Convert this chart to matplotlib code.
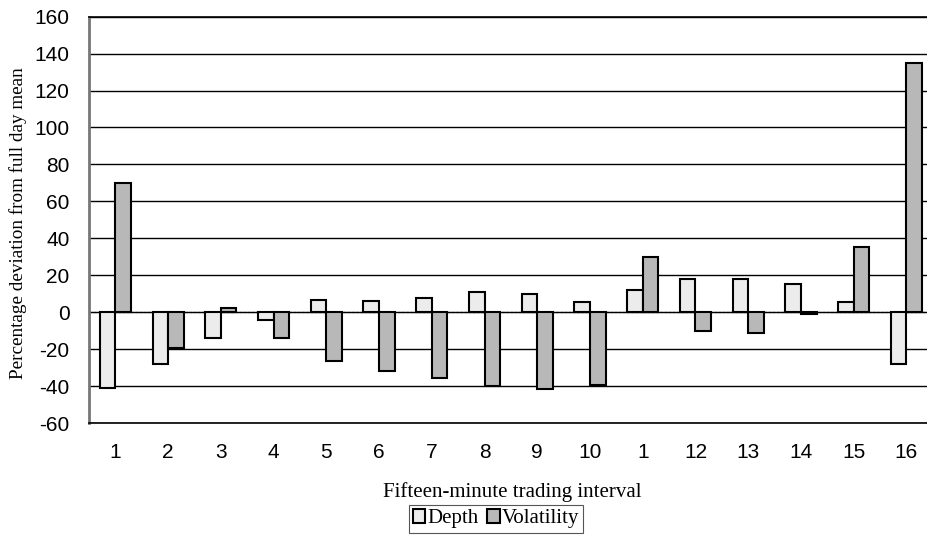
import numpy as np
import matplotlib
matplotlib.use('Agg')
import matplotlib.pyplot as plt

plt.rcParams['axes.unicode_minus'] = False

# tick labels as printed (the 11th reads "1" in the source)
intervals = ['1', '2', '3', '4', '5', '6', '7', '8', '9', '10',
             '1', '12', '13', '14', '15', '16']
depth = [-41, -28, -14, -4, 6.5, 6, 8, 11, 10, 5.5, 12, 18, 18, 15.5, 5.5, -28]
volatility = [70, -19.5, 2.5, -14, -26.5, -31.5, -35.5, -40, -41.5, -39.5,
              30, -10, -11, -1, 35.5, 135]

fig = plt.figure(figsize=(9.27, 5.35), dpi=100)
ax = fig.add_axes([0.096, 0.209, 0.904, 0.760])

x = np.arange(len(intervals))
w = 0.295
ax.bar(x - w / 2, depth, w, color='#ececec', edgecolor='black', linewidth=1.5,
       label='Depth', zorder=3)
ax.bar(x + w / 2, volatility, w, color='#b8b8b8', edgecolor='black', linewidth=1.5,
       label='Volatility', zorder=3)

ax.set_ylim(-60, 160)
ax.set_yticks(np.arange(-60, 161, 20))
ax.set_xlim(-0.5, 15.39)
ax.set_xticks(x)
ax.set_xticklabels(intervals)

ax.yaxis.grid(True, color='black', linewidth=1.0, zorder=0)
ax.axhline(0, color='#888888', linewidth=1.0, linestyle=(0, (2, 1)), zorder=1)
ax.spines['right'].set_visible(False)
ax.spines['left'].set_color('#777777')
ax.spines['left'].set_linewidth(2)
ax.spines['top'].set_linewidth(1.2)
ax.spines['bottom'].set_linewidth(1.2)

ax.tick_params(axis='y', length=0, pad=14, labelsize=15)
ax.tick_params(axis='x', length=0, pad=14, labelsize=15)
for lab in ax.get_xticklabels() + ax.get_yticklabels():
    lab.set_fontfamily('Liberation Sans')

fig.text(0.019, 0.583, 'Percentage deviation from full day mean',
         family='Liberation Serif', fontsize=13.8, rotation=90,
         ha='center', va='center')
fig.text(0.553, 0.08, 'Fifteen-minute trading interval', family='Liberation Serif',
         fontsize=15, ha='center', va='center')

leg = fig.legend(loc='upper center', bbox_to_anchor=(0.535, 0.075), ncol=2,
                 prop={'family': 'Liberation Serif', 'size': 15},
                 handlelength=0.6, handleheight=0.6, handletextpad=0.1,
                 columnspacing=0.4, borderpad=0.2, fancybox=False,
                 edgecolor='#555555', framealpha=1)
leg.get_frame().set_linewidth(0.8)

fig.savefig('out.png', dpi=100)
